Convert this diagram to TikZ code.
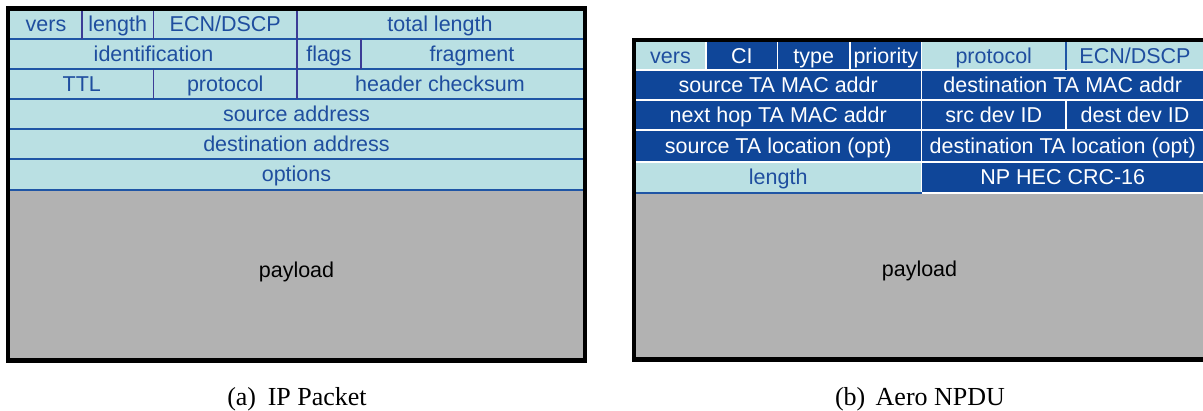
\documentclass[tikz,border=0pt]{standalone}
\usepackage{fontspec}
\setmainfont{Liberation Serif}
\newfontfamily\fieldfont{Liberation Sans}
\definecolor{lightcell}{HTML}{BAE0E3}
\definecolor{darkcell}{HTML}{0F4699}
\definecolor{fieldtext}{HTML}{1F4E9F}
\definecolor{vsep}{HTML}{3C3C96}
\definecolor{hsep}{HTML}{1F55A5}
\definecolor{paygray}{HTML}{B2B2B2}
\tikzset{
  cellbase/.style={rectangle, inner sep=0pt, outer sep=0pt, draw=none,
    font=\fieldfont\fontsize{21.5pt}{24pt}\selectfont,
    text height=16pt, text depth=1pt},
  lightbox/.style={cellbase, fill=lightcell, text=fieldtext},
  darkbox/.style={cellbase, fill=darkcell, text=white},
  paybox/.style={cellbase, fill=paygray, text=black},
  vline/.style={draw=vsep, line width=1.6pt},
  hline/.style={draw=hsep, line width=1.6pt},
  wline/.style={draw=white, line width=1.8pt},
  frameline/.style={draw=black, line width=4.5pt},
  captext/.style={font=\fontsize{26pt}{29pt}\selectfont, anchor=base, inner sep=0pt}
}
% #1 style, #2 name, #3 x1, #4 y1, #5 x2, #6 y2, #7 text
\newcommand\pktcell[7]{%
  \pgfmathsetmacro\pktcellw{#5-#3}\pgfmathsetmacro\pktcellh{#6-#4}%
  \node[#1, minimum width=\pktcellw pt, minimum height=\pktcellh pt, anchor=north west] (#2) at (#3,#4) {#7};}
\begin{document}
\begin{tikzpicture}[x=1pt,y=-1pt]
\useasboundingbox (0,0) rectangle (1203,411);
\clip (0,0) rectangle (1203,411);
% ---------------- (a) IP packet ----------------
\pktcell{lightbox}{versA}{10}{10}{82}{39}{vers}
\pktcell{lightbox}{lenA}{82}{10}{153.5}{39}{length}
\pktcell{lightbox}{ecnA}{153.5}{10}{297}{39}{ECN/DSCP}
\pktcell{lightbox}{totA}{297}{10}{583}{39}{total length}
\pktcell{lightbox}{idA}{10}{39}{297}{69}{identification}
\pktcell{lightbox}{flagsA}{297}{39}{361}{69}{flags}
\pktcell{lightbox}{fragA}{361}{39}{583}{69}{fragment}
\pktcell{lightbox}{ttlA}{10}{69}{153.5}{99}{TTL}
\pktcell{lightbox}{protA}{153.5}{69}{297}{99}{protocol}
\pktcell{lightbox}{cksA}{297}{69}{583}{99}{header checksum}
\pktcell{lightbox}{srcA}{10}{99}{583}{129}{source address}
\pktcell{lightbox}{dstA}{10}{129}{583}{159}{destination address}
\pktcell{lightbox}{optA}{10}{159}{583}{190}{options}
\pktcell{paybox, text height=12.5pt, text depth=5.5pt}{payA}{10}{190}{583}{358}{payload}
% row separators
\draw[hline] (versA.south west) -- (totA.south east);
\draw[hline] (idA.south west) -- (fragA.south east);
\draw[hline] (ttlA.south west) -- (cksA.south east);
\draw[hline] (srcA.south west) -- (srcA.south east);
\draw[hline] (dstA.south west) -- (dstA.south east);
\draw[hline, line width=2.2pt] (optA.south west) -- (optA.south east);
% column separators
\draw[vline] (versA.north east) -- (versA.south east);
\draw[vline] (lenA.north east) -- (lenA.south east);
\draw[vline] (ecnA.north east) -- (ecnA.south east);
\draw[vline] (idA.north east) -- (idA.south east);
\draw[vline] (flagsA.north east) -- (flagsA.south east);
\draw[vline] (ttlA.north east) -- (ttlA.south east);
\draw[vline] (protA.north east) -- (protA.south east);
% frame
\draw[frameline] (8,8.5) rectangle (585,360.5);
% ---------------- (b) Aero NPDU ----------------
\pktcell{lightbox}{versB}{635}{42}{706}{70}{vers}
\pktcell{darkbox}{ciB}{706}{42}{777.5}{70}{CI}
\pktcell{darkbox}{typeB}{777.5}{42}{850}{70}{type}
\pktcell{darkbox}{prioB}{850}{42}{921.5}{70}{priority}
\pktcell{lightbox}{protB}{921.5}{42}{1066}{70}{protocol}
\pktcell{lightbox}{ecnB}{1066}{42}{1204}{70}{ECN/DSCP}
\pktcell{darkbox}{smacB}{635}{70}{921.5}{100}{source TA MAC addr}
\pktcell{darkbox}{dmacB}{921.5}{70}{1204}{100}{destination TA MAC addr}
\pktcell{darkbox}{nhopB}{635}{100}{921.5}{130}{next hop TA MAC addr}
\pktcell{darkbox}{sdevB}{921.5}{100}{1066}{130}{src dev ID}
\pktcell{darkbox}{ddevB}{1066}{100}{1204}{130}{dest dev ID}
\pktcell{darkbox}{slocB}{635}{130}{921.5}{162}{source TA location (opt)}
\pktcell{darkbox}{dlocB}{921.5}{130}{1204}{162}{destination TA location (opt)}
\pktcell{lightbox}{lenB}{635}{162}{921.5}{193}{length}
\pktcell{darkbox}{hecB}{921.5}{162}{1204}{193}{NP HEC CRC-16}
\pktcell{paybox, text height=11pt, text depth=8pt}{payB}{635}{193}{1204}{357}{payload}
% white separators
\draw[wline] (versB.south west) -- (ecnB.south east);
\draw[wline] (smacB.south west) -- (dmacB.south east);
\draw[wline] (nhopB.south west) -- (ddevB.south east);
\draw[wline] (slocB.south west) -- (dlocB.south east);
\draw[wline] (hecB.south west) -- (hecB.south east);
\draw[wline] (versB.north east) -- (versB.south east);
\draw[wline] (ciB.north east) -- (ciB.south east);
\draw[wline] (typeB.north east) -- (typeB.south east);
\draw[wline] (prioB.north east) -- (prioB.south east);
\draw[wline] (smacB.north east) -- (smacB.south east);
\draw[wline] (nhopB.north east) -- (nhopB.south east);
\draw[wline] (sdevB.north east) -- (sdevB.south east);
\draw[wline] (slocB.north east) -- (slocB.south east);
\draw[wline] (lenB.north east) -- (lenB.south east);
% blue separators
\draw[hline] (protB.north east) -- (protB.south east);
\draw[hline, line width=2.2pt] (lenB.south west) -- (lenB.south east);
% frame
\draw[frameline] (1215,40) -- (634,40) -- (634,359.5) -- (1215,359.5);
% ---------------- captions ----------------
\node[captext] (capA) at (297,405.5) {(a)\hspace{0.45em}IP Packet};
\node[captext] (capB) at (920,405.5) {(b)\hspace{0.4em}Aero NPDU};
\end{tikzpicture}
\end{document}
